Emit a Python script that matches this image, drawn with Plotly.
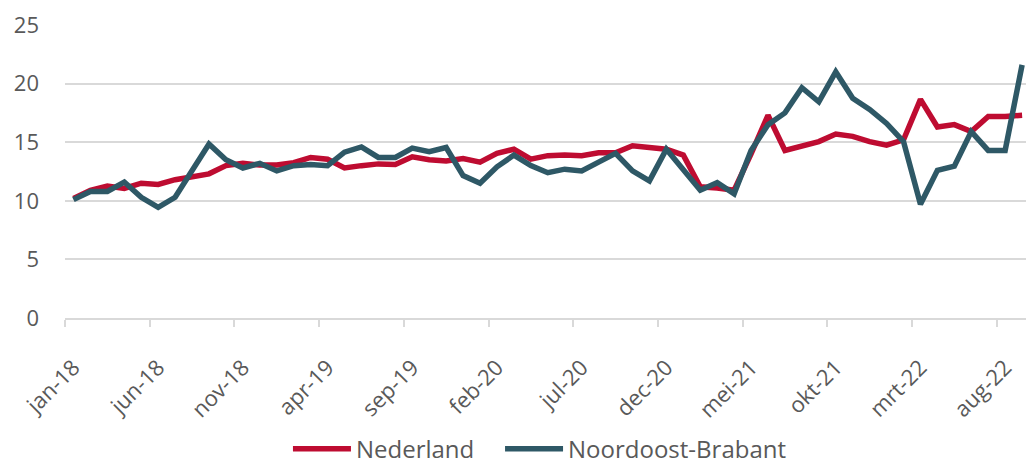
import plotly.graph_objects as go

months = ["jan", "feb", "mrt", "apr", "mei", "jun", "jul", "aug", "sep", "okt", "nov", "dec"]
categories = [f"{m}-{y}" for y in ["18", "19", "20", "21", "22"] for m in months][:57]

nederland = [10.2, 10.9, 11.25, 11.05, 11.5, 11.4, 11.8, 12.05, 12.3, 13.0,
             13.2, 13.05, 13.05, 13.25, 13.7, 13.55, 12.8, 13.0, 13.15, 13.1,
             13.75, 13.5, 13.4, 13.6, 13.3, 14.05, 14.4, 13.55, 13.85, 13.9,
             13.85, 14.1, 14.1, 14.7, 14.55, 14.4, 13.9, 11.2, 11.1, 10.9,
             14.0, 17.3, 14.3, 14.7, 15.05, 15.7, 15.5, 15.05, 14.75, 15.2,
             18.65, 16.3, 16.5, 15.9, 17.2, 17.2, 17.3]

noordoost_brabant = [10.1, 10.8, 10.8, 11.6, 10.3, 9.45, 10.3, 12.5, 14.85, 13.5,
                     12.8, 13.2, 12.55, 13.0, 13.1, 13.0, 14.15, 14.6, 13.7, 13.7,
                     14.5, 14.2, 14.55, 12.15, 11.5, 12.9, 13.9, 13.0, 12.4, 12.7,
                     12.55, 13.3, 14.05, 12.55, 11.7, 14.4, 12.7, 10.9, 11.55, 10.6,
                     14.3, 16.5, 17.5, 19.65, 18.45, 21.0, 18.75, 17.8, 16.6, 15.05,
                     9.7, 12.6, 12.95, 15.9, 14.3, 14.3, 21.6]

y_ticks = [0, 5, 10, 15, 20, 25]

idx = list(range(len(categories)))
label_idx = idx[::5]
label_text = [categories[i] for i in label_idx]

RED = "#BE0C31"
TEAL = "#2E5866"
GREY_TXT = "#595959"
GRID = "#D9D9D9"
FONT = "Open Sans"

fig = go.Figure()
fig.add_trace(go.Scatter(x=idx, y=nederland, name="Nederland", mode="lines",
                         line=dict(color=RED, width=5.5), customdata=categories,
                         legend="legend",
                         hovertemplate="%{customdata}: %{y}<extra>Nederland</extra>"))
fig.add_trace(go.Scatter(x=idx, y=noordoost_brabant, name="Noordoost-Brabant", mode="lines",
                         line=dict(color=TEAL, width=5.5), customdata=categories,
                         legend="legend2",
                         hovertemplate="%{customdata}: %{y}<extra>Noordoost-Brabant</extra>"))

legend_common = dict(orientation="h", xanchor="left", y=-0.448, yanchor="middle",
                     font=dict(size=24, color=GREY_TXT), itemwidth=58,
                     bgcolor="rgba(0,0,0,0)")

fig.update_layout(
    width=1026, height=464,
    margin=dict(l=65, r=0, t=25, b=146, autoexpand=False),
    paper_bgcolor="white", plot_bgcolor="white",
    font=dict(family=FONT, color=GREY_TXT, size=22),
    showlegend=True,
    legend=dict(x=0.232, **legend_common),
    legend2=dict(x=0.4527, **legend_common),
)
fig.update_xaxes(
    range=[-0.5, 56.23], automargin=False,
    tickmode="array", tickvals=label_idx, ticktext=label_text,
    tickangle=-45, ticks="", showgrid=False, zeroline=False,
    showline=True, linecolor=GRID, linewidth=2,
    tickfont=dict(size=22, color=GREY_TXT),
    ticklabelstandoff=26,
    minor=dict(ticks="outside", tick0=-0.5, dtick=5, ticklen=7, tickcolor=GRID,
               tickwidth=2, showgrid=False),
)
fig.update_yaxes(
    range=[0, 25], tickmode="array", tickvals=y_ticks, automargin=False,
    showgrid=True, gridcolor=GRID, gridwidth=1.5, zeroline=False,
    showline=False, ticks="", tickfont=dict(size=22, color=GREY_TXT),
    ticklabelstandoff=25,
)

fig.write_html("out.html", config={"displayModeBar": False},
               post_script="document.body.style.margin='0';document.body.style.overflow='hidden';")
